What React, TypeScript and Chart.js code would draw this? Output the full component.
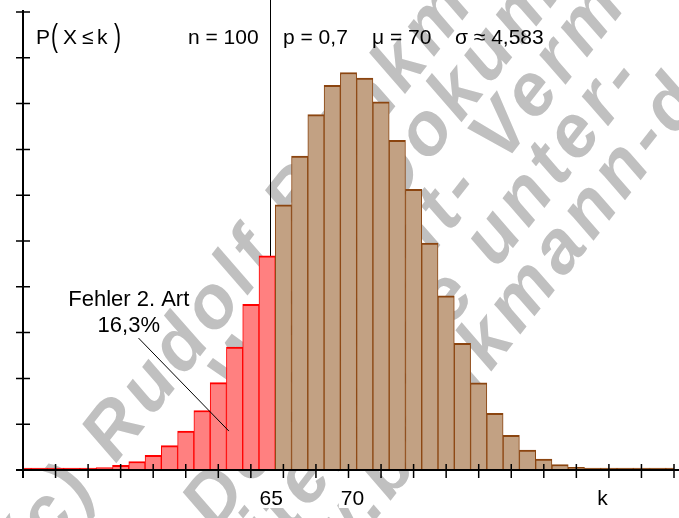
import React, { useEffect, useRef } from 'react';
import { Chart, registerables } from 'chart.js';

Chart.register(...registerables);

// ---- data ----
const kValues = [
  50, 51, 52, 53, 54, 55, 56, 57, 58, 59,
  60, 61, 62, 63, 64, 65, 66, 67, 68, 69,
  70, 71, 72, 73, 74, 75, 76, 77, 78, 79,
  80, 81, 82, 83, 84, 85, 86, 87, 88, 89, 90,
];
const probabilities = [
  0.000013, 0.0000298, 0.0000655, 0.000138, 0.000281, 0.000549, 0.001029, 0.001853, 0.003206, 0.005325,
  0.00849, 0.01299, 0.019066, 0.026834, 0.036198, 0.046779, 0.057883, 0.068538, 0.077609, 0.083983,
  0.086783, 0.085561, 0.080411, 0.071967, 0.061269, 0.04956, 0.03804, 0.027665, 0.019035, 0.012369,
  0.007576, 0.004365, 0.00236, 0.001194, 0.000564, 0.000248, 0.000101, 0.0000378, 0.000013, 0.0000041, 0.0000012,
];
const criticalK = 65;
const criticalLineK = 65.2;
const xTickValues = [50, 52, 54, 56, 58, 60, 62, 64, 66, 68, 70, 72, 74, 76, 78, 80, 82, 84, 86, 88, 90];
const yTickValues = [0, 0.01, 0.02, 0.03, 0.04, 0.05, 0.06, 0.07, 0.08, 0.09, 0.1];
const xAxisLabels = ['65', '70'];
const xAxisLabelValues = [65, 70];
const errorLabel = ['Fehler 2. Art', '16,3%'];

const FONT = '"Liberation Sans", Arial, Helvetica, sans-serif';

const watermark = [
  { text: '(c) Rudolf Brinkmann', anchor: 4, s: -265, n: 357 },
  { text: 'Word-Dokument', anchor: 6, s: 161, n: 419 },
  { text: 'Original-Dokument- Vermerk', anchor: 19, s: 208, n: 478 },
  { text: 'Weitergabe unter-', anchor: 11, s: 119, n: 537 },
  { text: 'www.brinkmann-du.de', anchor: 8, s: 32, n: 596 },
];

const overlayPlugin = {
  id: 'overlay',
  beforeDatasetsDraw(chart: any) {
    const ctx: any = chart.ctx;
    const xs = chart.scales.x;
    const ys = chart.scales.y;
    // watermark
    ctx.save();
    const F = 74;
    ctx.font = `italic bold ${F}px ${FONT}`;
    ctx.letterSpacing = '6px';
    ctx.fillStyle = '#c0c0c0';
    ctx.textBaseline = 'alphabetic';
    ctx.rotate((-52 * Math.PI) / 180);
    for (const l of watermark) {
      const pre = ctx.measureText(l.text.slice(0, l.anchor)).width;
      const cw = ctx.measureText(l.text[l.anchor]).width;
      ctx.fillText(l.text, l.s - pre - cw / 2, l.n + 0.27 * F);
    }
    ctx.restore();
    // critical vertical line
    ctx.save();
    ctx.strokeStyle = '#000';
    ctx.lineWidth = 1;
    const lx = Math.round(xs.getPixelForValue(criticalLineK)) + 0.5;
    ctx.beginPath();
    ctx.moveTo(lx, 0);
    ctx.lineTo(lx, ys.getPixelForValue(0));
    ctx.stroke();
    ctx.restore();
  },
  afterDatasetsDraw(chart: any) {
    const ctx: CanvasRenderingContext2D = chart.ctx;
    const xs = chart.scales.x;
    const ys = chart.scales.y;
    const x0 = xs.getPixelForValue(50);
    const y0 = ys.getPixelForValue(0);
    ctx.save();
    ctx.strokeStyle = '#000';
    // axes
    ctx.lineWidth = 2;
    ctx.beginPath();
    ctx.moveTo(x0, ys.getPixelForValue(0.1) - 2);
    ctx.lineTo(x0, y0 + 8);
    ctx.moveTo(x0 - 7, y0);
    ctx.lineTo(chart.width, y0);
    ctx.stroke();
    ctx.lineWidth = 1.5;
    ctx.beginPath();
    for (const v of yTickValues) {
      const y = ys.getPixelForValue(v);
      ctx.moveTo(x0 - 7, y);
      ctx.lineTo(x0 + 7, y);
    }
    for (const v of xTickValues) {
      const x = xs.getPixelForValue(v);
      ctx.moveTo(x, y0 - 6);
      ctx.lineTo(x, y0 + 8);
    }
    ctx.stroke();

    // leader line
    ctx.lineWidth = 1;
    ctx.beginPath();
    ctx.moveTo(xs.getPixelForValue(57.1), ys.getPixelForValue(0.0288));
    ctx.lineTo(xs.getPixelForValue(62.65), ys.getPixelForValue(0.0085));
    ctx.stroke();

    ctx.fillStyle = '#000';
    ctx.textBaseline = 'alphabetic';
    // error label
    ctx.font = `22px ${FONT}`;
    ctx.textAlign = 'center';
    const lxC = xs.getPixelForValue(56.5);
    ctx.fillText(errorLabel[0], lxC, ys.getPixelForValue(0.0358));
    ctx.fillText(errorLabel[1], lxC, ys.getPixelForValue(0.0301));

    // x axis labels with white boxes
    ctx.font = `21px ${FONT}`;
    xAxisLabels.forEach((t, i) => {
      const cx = xs.getPixelForValue(xAxisLabelValues[i]) + 4;
      const w = ctx.measureText(t).width;
      ctx.fillStyle = '#fff';
      ctx.fillRect(cx - w / 2 - 2, 487, w + 4, 21);
      ctx.fillStyle = '#000';
      ctx.fillText(t, cx, 505);
    });
    ctx.fillText('k', xs.getPixelForValue(85.6), 505);

    // header
    ctx.textAlign = 'left';
    ctx.font = `21px ${FONT}`;
    ctx.fillText('P', 36, 44);
    ctx.save();
    ctx.translate(51, 46);
    ctx.scale(1, 1.45);
    ctx.fillText('(', 0, 0);
    ctx.restore();
    ctx.fillText('X', 63, 44);
    ctx.fillText('\u2264', 82, 44);
    ctx.fillText('k', 97, 44);
    ctx.save();
    ctx.translate(114, 46);
    ctx.scale(1, 1.45);
    ctx.fillText(')', 0, 0);
    ctx.restore();

    ctx.fillText('n = 100', 188, 44);
    ctx.fillText('p = 0,7', 283, 44);
    ctx.fillText('\u03bc = 70', 372, 44);
    ctx.fillText('\u03c3 \u2248 4,583', 455, 44);
    ctx.restore();
  },
};

export default function App() {
  const ref = useRef<HTMLCanvasElement>(null);
  useEffect(() => {
    document.body.style.margin = '0';
    const data = kValues.map((k, i) => ({ x: k, y: probabilities[i] }));
    const chart = new Chart(ref.current as HTMLCanvasElement, {
      type: 'bar',
      data: {
        datasets: [
          {
            data: data as any,
            backgroundColor: kValues.map((k) => (k <= criticalK ? '#ff8080' : '#c2a183')),
            borderColor: kValues.map((k) => (k <= criticalK ? '#ff0000' : '#8b4510')),
            borderWidth: { top: 2, left: 1, right: 1, bottom: 0 } as any,
            barPercentage: 1,
            categoryPercentage: 1,
            minBarLength: 2,
            grouped: false,
          } as any,
        ],
      },
      options: {
        responsive: false,
        animation: false,
        layout: { padding: { left: 23, right: 5, top: 12, bottom: 48 } },
        plugins: { legend: { display: false }, tooltip: { enabled: false } },
        scales: {
          x: { type: 'linear', min: 50, max: 90, offset: false, display: false },
          y: { type: 'linear', min: 0, max: 0.1, display: false },
        },
      },
      plugins: [overlayPlugin],
    });
    return () => chart.destroy();
  }, []);
  return (
    <div style={{ position: 'fixed', left: 0, top: 0, width: 679, height: 518, background: '#fff' }}>
      <canvas ref={ref} width={679} height={518} style={{ display: 'block' }} />
    </div>
  );
}
